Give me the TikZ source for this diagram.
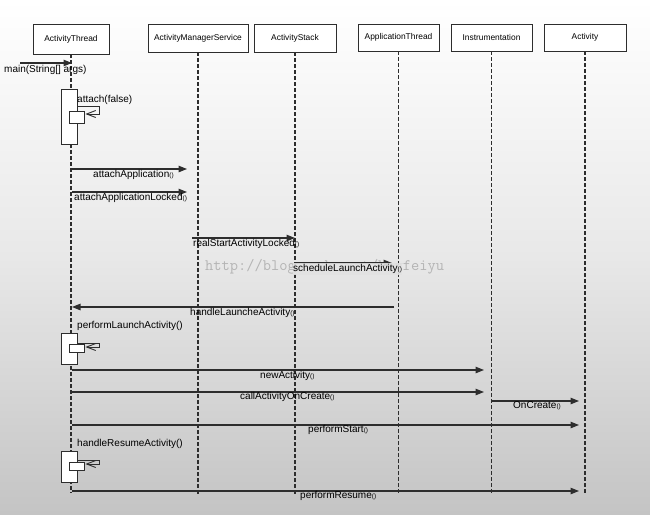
\documentclass[tikz,border=0pt]{standalone}
\usepackage{fontspec}
\setmainfont{Liberation Sans}
\usetikzlibrary{arrows.meta}
\definecolor{ln}{RGB}{45,45,45}
\definecolor{bgbot}{RGB}{196,196,196}
\definecolor{wmc}{RGB}{180,180,180}
\definecolor{lblbg}{RGB}{226,226,226}
\newcommand{\pp}{{\fontsize{6.5}{7}\selectfont()}}
\begin{document}
\begin{tikzpicture}[x=1pt,y=-1pt,
  hdr/.style={draw=ln, line width=0.9pt, fill=white, inner sep=0pt, font=\fontsize{8.4}{10}\selectfont},
  life/.style={draw=ln, line width=1.2pt, dash pattern=on 3.5pt off 2.5pt},
  actbar/.style={draw=ln, line width=0.9pt, fill=white, minimum width=16pt, inner sep=0pt},
  nested/.style={draw=ln, line width=0.9pt, fill=white, minimum width=15pt, inner sep=0pt},
  msg/.style={draw=ln, line width=1.1pt, -{Triangle[length=8.5pt,width=6.5pt]}},
  selfmsg/.style={draw=ln, line width=0.9pt, -{Straight Barb[length=9pt,width=7pt]}},
  lbl/.style={inner sep=0pt, anchor=west, font=\fontsize{10}{12}\selectfont},
]
\useasboundingbox (0,0) rectangle (650,514);
\shade[top color=white, bottom color=bgbot, middle color={rgb,255:red,232;green,232;blue,232}] (0,0) rectangle (650,514);

% watermark
\node[inner sep=0pt, anchor=west, text=wmc, font=\ttfamily\fontsize{16}{16}\selectfont] (wmark) at (205,267) {http://blog.csdn.net/boyfeiyu};

% headers
\node[hdr, minimum width=76pt, minimum height=30pt] (at) at (71,39) {ActivityThread};
\node[hdr, minimum width=100pt, minimum height=28pt] (ams) at (198,38) {ActivityManagerService};
\node[hdr, minimum width=82pt, minimum height=28pt] (as) at (295,38) {ActivityStack};
\node[hdr, minimum width=81pt, minimum height=27pt] (apt) at (398.5,37.5) {ApplicationThread};
\node[hdr, minimum width=81pt, minimum height=27pt] (ins) at (491.5,37.5) {Instrumentation};
\node[hdr, minimum width=82pt, minimum height=27pt] (act) at (585,37.5) {Activity};

% lifelines
\coordinate (bot) at (0,493);
\coordinate (botb) at (0,494);
\draw[life] (at.south) -- (at.south |- bot);
\draw[life] (ams.south) -- (ams.south |- botb);
\draw[life] (as.south) -- (as.south |- botb);
\draw[life] (apt.south) -- (apt.south |- botb);
\draw[life] (ins.south) -- (ins.south |- botb);
\draw[life] (act.south) -- (act.south |- botb);

% activation bars
\node[actbar, minimum height=55pt] (bar1) at (69,116.5) {};
\node[nested, minimum height=12pt] (nb1) at (76.5,117) {};
\node[actbar, minimum height=31pt] (bar2) at (69,348.5) {};
\node[nested, minimum height=8pt] (nb2) at (76.5,348) {};
\node[actbar, minimum height=31pt] (bar3) at (69,466.5) {};
\node[nested, minimum height=8pt] (nb3) at (76.5,466) {};

% self calls
\coordinate (s1) at (77,106);
\coordinate (s2) at (77,343);
\coordinate (s3) at (77,460);
\draw[selfmsg] (s1) -| ([xshift=15pt,yshift=3pt]nb1.east) -- ([xshift=1pt,yshift=3pt]nb1.east);
\draw[selfmsg] (s2) -| ([xshift=15pt,yshift=1pt]nb2.east) -- ([xshift=1pt,yshift=1pt]nb2.east);
\draw[selfmsg] (s3) -| ([xshift=15pt,yshift=2pt]nb3.east) -- ([xshift=1pt,yshift=2pt]nb3.east);
\node[lbl] (l1) at (77,100) {attach(false)};
\node[lbl] (l7) at (77,326) {performLaunchActivity()};
\node[lbl] (l12) at (77,444) {handleResumeActivity()};

% message end points
\coordinate (m1a) at (20,63);   \coordinate (m1b) at (72,63);
\coordinate (m2a) at (72,169);  \coordinate (m2b) at (187,169);
\coordinate (m3a) at (72,192);  \coordinate (m3b) at (187,192);
\coordinate (m4a) at (192,238); \coordinate (m4b) at (295,238);
\coordinate (m5a) at (296,263); \coordinate (m5b) at (392,263);
\coordinate (m6a) at (394,307); \coordinate (m6b) at (72,307);
\coordinate (m7a) at (72,370);  \coordinate (m7b) at (484,370);
\coordinate (m8a) at (72,392);  \coordinate (m8b) at (484,392);
\coordinate (m9a) at (492,401); \coordinate (m9b) at (579,401);
\coordinate (m10a) at (72,425); \coordinate (m10b) at (579,425);
\coordinate (m11a) at (72,491); \coordinate (m11b) at (579,491);

\draw[msg] (m1a) -- (m1b);
\draw[msg] (m2a) -- (m2b);
\draw[msg] (m3a) -- (m3b);
\draw[msg] (m4a) -- (m4b);
\draw[msg] (m5a) -- (m5b);
\draw[msg] (m6a) -- (m6b);
\draw[msg] (m7a) -- (m7b);
\draw[msg] (m8a) -- (m8b);
\draw[msg] (m9a) -- (m9b);
\draw[msg] (m10a) -- (m10b);
\draw[msg] (m11a) -- (m11b);

% labels
\node[lbl] (l0) at (4,70) {main(String[] args)};
\node[lbl] (l2) at (93,175) {attachApplication\pp};
\node[lbl] (l3) at (74,198) {attachApplicationLocked\pp};
\node[lbl] (l4) at (193,244) {realStartActivityLocked\pp};
\node[lbl, fill=lblbg, fill opacity=0.9, text opacity=1, inner ysep=1pt] (l5) at (293,269) {scheduleLaunchActivity\pp};
\node[lbl] (l6) at (190,313) {handleLauncheActivity\pp};
\node[lbl] (l8) at (260,376) {newActivity\pp};
\node[lbl] (l9) at (240,397) {callActivityOnCreate\pp};
\node[lbl] (l10) at (513,406) {OnCreate\pp};
\node[lbl] (l11) at (308,430) {performStart\pp};
\node[lbl] (l13) at (300,496) {performResume\pp};
\end{tikzpicture}
\end{document}
